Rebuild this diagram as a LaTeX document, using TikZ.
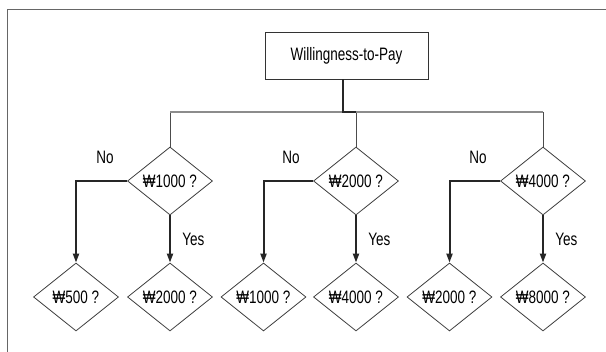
\documentclass[tikz,border=0pt]{standalone}
\usepackage{fontspec}
\setmainfont{Liberation Sans}[FakeStretch=0.75]
\usetikzlibrary{arrows.meta,shapes.geometric,calc}
\tikzset{every picture/.style={line width=0.75pt}}

\begin{document}
\begin{tikzpicture}[x=1pt,y=-1pt,font=\fontsize{18}{21}\selectfont,
    frage/.style={diamond,draw=black!75,line width=0.8pt,minimum width=85pt,minimum height=68pt,inner sep=0pt},
    titel/.style={draw=black!80,line width=0.9pt,minimum width=163pt,minimum height=47pt,inner sep=0pt},
    zweig/.style={draw=black!85,line width=2pt,-{Triangle[length=9pt,width=6pt]}},
    bus/.style={draw=black!45,line width=2pt},
    stich/.style={draw=black!70,line width=0.8pt}]
    \useasboundingbox (0,0) rectangle (606,352);
    % 外框
    \draw[black!60,line width=0.8pt] (7,352) -- (7,9) -- (606,9);
    % 标题
    \node[titel] (wtp) at (346.5,55.5) {Willingness-to-Pay};
    % 第一层
    \node[frage] (d1) at (170,181) {₩1000 ?};
    \node[frage] (d2) at (356,181) {₩2000 ?};
    \node[frage] (d3) at (543,181) {₩4000 ?};
    % 第二层
    \node[frage] (a1) at (76,297) {₩500 ?};
    \node[frage] (a2) at (170,297) {₩2000 ?};
    \node[frage] (b1) at (263.5,297) {₩1000 ?};
    \node[frage] (b2) at (356,297) {₩4000 ?};
    \node[frage] (c1) at (449.5,297) {₩2000 ?};
    \node[frage] (c2) at (543,297) {₩8000 ?};
    % 总线
    \coordinate (busy) at (356,112);
    \draw[stich] (d1.north) -- (d1.north |- busy);
    \draw[stich] (d2.north) -- (d2.north |- busy);
    \draw[stich] (d3.north) -- (d3.north |- busy);
    \draw[bus] (d1.north |- busy) -- (d3.north |- busy);
    \draw[draw=black!85,line width=1.5pt] ([xshift=-3.5pt]wtp.south) |- (d2.north |- busy);
    % No / Yes 分支
    \draw[zweig] (d1.west) -| (a1.north);
    \draw[zweig] (d1.south) -- node[right=8pt] (y1) {Yes} (a2.north);
    \node (n1) at ($(d1.west)+(-22,-24)$) {No};
    \draw[zweig] (d2.west) -| (b1.north);
    \draw[zweig] (d2.south) -- node[right=8pt] (y2) {Yes} (b2.north);
    \node (n2) at ($(d2.west)+(-22,-24)$) {No};
    \draw[zweig] (d3.west) -| (c1.north);
    \draw[zweig] (d3.south) -- node[right=8pt] (y3) {Yes} (c2.north);
    \node (n3) at ($(d3.west)+(-22,-24)$) {No};
\end{tikzpicture}
\end{document}
